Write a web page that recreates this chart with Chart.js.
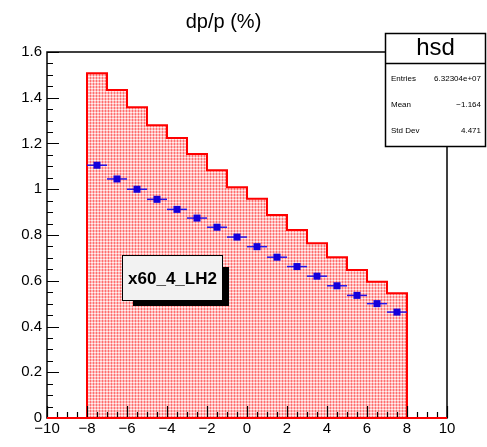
<!DOCTYPE html>
<html>
<head>
<meta charset="utf-8">
<script src="https://cdn.jsdelivr.net/npm/chart.js@4/dist/chart.umd.min.js"></script>
<style>
  html, body { margin: 0; padding: 0; background: #fff; }
  #wrap { width: 487px; height: 447px; position: relative; }
</style>
</head>
<body>
<div id="wrap"><canvas id="c" width="487" height="447"></canvas></div>
<script>
// histogram "hsd": 16 bins of width 1 from -8 to 8
const binEdges = [-8, -7, -6, -5, -4, -3, -2, -1, 0, 1, 2, 3, 4, 5, 6, 7, 8];
const histValues = [1.507, 1.434, 1.358, 1.280, 1.224, 1.154, 1.083, 1.009,
                    0.959, 0.887, 0.822, 0.764, 0.703, 0.647, 0.596, 0.545];
// overlaid profile points (blue)
const pointValues = [1.105, 1.045, 1.000, 0.956, 0.912, 0.874, 0.834, 0.791,
                     0.749, 0.703, 0.662, 0.620, 0.578, 0.536, 0.500, 0.463];
const xRange = [-10, 10];
const yRange = [0, 1.6];
const titleText = 'dp/p (%)';
const statsName = 'hsd';
const statsRows = [['Entries', '6.32304e+07'], ['Mean', '\u22121.164'], ['Std Dev', '4.471']];
const labelText = 'x60_4_LH2';

const FONT = '"Liberation Sans", Arial, Helvetica, sans-serif';

// stepped outline of the histogram, including the zero line out to the axis range
const histLine = [{ x: xRange[0], y: 0 }, { x: binEdges[0], y: 0 }];
histValues.forEach((v, i) => histLine.push({ x: binEdges[i], y: v }));
histLine.push({ x: binEdges[binEdges.length - 1], y: histValues[histValues.length - 1] });
histLine.push({ x: binEdges[binEdges.length - 1], y: 0 });
histLine.push({ x: xRange[1], y: 0 });

const points = pointValues.map((v, i) => ({
  x: (binEdges[i] + binEdges[i + 1]) / 2, y: v,
  xlo: binEdges[i], xhi: binEdges[i + 1]
}));

// ROOT-like dotted red fill
function makePattern() {
  const t = document.createElement('canvas');
  t.width = 3; t.height = 3;
  const g = t.getContext('2d');
  g.fillStyle = 'rgb(255,185,185)';
  g.fillRect(0, 0, 3, 3);
  g.fillStyle = 'rgb(255,110,110)';
  g.fillRect(0, 0, 1, 1);
  g.fillRect(0, 2, 1, 1);
  g.fillStyle = 'rgb(255,238,238)';
  g.fillRect(1, 1, 2, 1);
  return g.createPattern(t, 'repeat');
}

const minus = s => String(s).replace('-', '\u2212');

const rootPlugin = {
  id: 'rootStyle',
  afterDatasetsDraw(chart) {
    const ctx = chart.ctx;
    const xs = chart.scales.x, ys = chart.scales.y;
    const a = chart.chartArea;

    // error bars + square markers of the blue points
    ctx.save();
    ctx.strokeStyle = 'rgb(40,20,230)';
    ctx.lineWidth = 1.5;
    points.forEach(p => {
      const yp = ys.getPixelForValue(p.y);
      ctx.beginPath();
      ctx.moveTo(xs.getPixelForValue(p.xlo), yp);
      ctx.lineTo(xs.getPixelForValue(p.xhi), yp);
      ctx.stroke();
    });
    ctx.fillStyle = 'rgb(20,0,220)';
    points.forEach(p => {
      const xp = xs.getPixelForValue(p.x), yp = ys.getPixelForValue(p.y);
      ctx.fillRect(xp - 3.5, yp - 3.5, 7, 7);
    });
    ctx.restore();

    // frame
    ctx.save();
    ctx.strokeStyle = '#000';
    ctx.lineWidth = 1.5;
    ctx.strokeRect(a.left, a.top, a.right - a.left, a.bottom - a.top);

    // inward ticks
    ctx.lineWidth = 1.2;
    ctx.beginPath();
    for (let v = xRange[0]; v <= xRange[1] + 1e-9; v += 0.5) {
      const px = Math.round(xs.getPixelForValue(v)) + 0.5;
      const major = Math.abs(v / 2 - Math.round(v / 2)) < 1e-6;
      const len = major ? 12 : 6;
      ctx.moveTo(px, a.bottom);
      ctx.lineTo(px, a.bottom - len);
    }
    for (let v = yRange[0]; v <= yRange[1] + 1e-9; v += 0.05) {
      const py = Math.round(ys.getPixelForValue(v)) + 0.5;
      const major = Math.abs(v / 0.2 - Math.round(v / 0.2)) < 1e-6;
      const len = major ? 12 : 6;
      ctx.moveTo(a.left, py);
      ctx.lineTo(a.left + len, py);
    }
    ctx.stroke();
    ctx.restore();

    // red zero line over the frame bottom
    ctx.save();
    ctx.strokeStyle = 'rgb(255,0,0)';
    ctx.lineWidth = 2;
    ctx.beginPath();
    ctx.moveTo(xs.getPixelForValue(xRange[0]), ys.getPixelForValue(0));
    ctx.lineTo(xs.getPixelForValue(xRange[1]), ys.getPixelForValue(0));
    ctx.stroke();
    ctx.restore();

    // text label pave with shadow
    ctx.save();
    ctx.fillStyle = '#000';
    ctx.fillRect(133, 267, 96, 39);
    ctx.fillStyle = '#f2f2f2';
    ctx.fillRect(122, 255, 101, 46);
    ctx.strokeStyle = '#000';
    ctx.lineWidth = 1;
    ctx.strokeRect(122.5, 255.5, 100, 45);
    ctx.fillStyle = '#000';
    ctx.font = 'bold 17px ' + FONT;
    ctx.textAlign = 'center';
    ctx.textBaseline = 'middle';
    ctx.fillText(labelText, 172.5, 279);
    ctx.restore();

    // stats box
    ctx.save();
    ctx.fillStyle = '#fff';
    ctx.fillRect(385, 33, 101, 114);
    ctx.strokeStyle = '#000';
    ctx.lineWidth = 1.5;
    ctx.strokeRect(385.5, 33.5, 100, 113);
    ctx.beginPath();
    ctx.moveTo(385, 63.5);
    ctx.lineTo(486, 63.5);
    ctx.stroke();
    ctx.fillStyle = '#000';
    ctx.textBaseline = 'middle';
    ctx.textAlign = 'center';
    ctx.font = '24px ' + FONT;
    ctx.fillText(statsName, 435.5, 48);
    ctx.font = '8px ' + FONT;
    statsRows.forEach((r, i) => {
      const y = 79 + i * 26;
      ctx.textAlign = 'left';
      ctx.fillText(r[0], 391, y);
      ctx.textAlign = 'right';
      ctx.fillText(r[1], 481, y);
    });
    ctx.restore();
  }
};

new Chart(document.getElementById('c'), {
  type: 'scatter',
  data: {
    datasets: [
      {
        type: 'line',
        data: histLine,
        stepped: true,
        borderColor: 'rgb(255,0,0)',
        borderWidth: 2,
        backgroundColor: makePattern(),
        fill: 'origin',
        pointRadius: 0,
        order: 2
      },
      {
        data: points,
        pointStyle: 'rect',
        pointRadius: 0,
        backgroundColor: 'rgb(20,0,220)',
        borderWidth: 0,
        order: 1
      }
    ]
  },
  options: {
    responsive: false,
    animation: false,
    devicePixelRatio: 1,
    layout: { padding: { left: 0, right: 40, top: 0, bottom: 0 } },
    plugins: {
      legend: { display: false },
      tooltip: { enabled: false },
      title: {
        display: true,
        text: titleText,
        color: '#000',
        font: { family: FONT, size: 20, weight: 'normal' },
        padding: { top: 10, bottom: 18 }
      }
    },
    scales: {
      x: {
        type: 'linear',
        min: xRange[0], max: xRange[1],
        grid: { display: false, drawTicks: false },
        border: { display: false },
        ticks: {
          stepSize: 2, color: '#000', padding: 2,
          font: { family: FONT, size: 15 },
          callback: v => minus(v)
        },
        afterFit: s => { s.height = 29; }
      },
      y: {
        min: yRange[0], max: yRange[1],
        grid: { display: false, drawTicks: false },
        border: { display: false },
        ticks: {
          stepSize: 0.2, color: '#000', padding: 5,
          font: { family: FONT, size: 15 },
          callback: v => String(Math.round(v * 10) / 10)
        },
        afterFit: s => { s.width = 47; }
      }
    }
  },
  plugins: [rootPlugin]
});
</script>
</body>
</html>
